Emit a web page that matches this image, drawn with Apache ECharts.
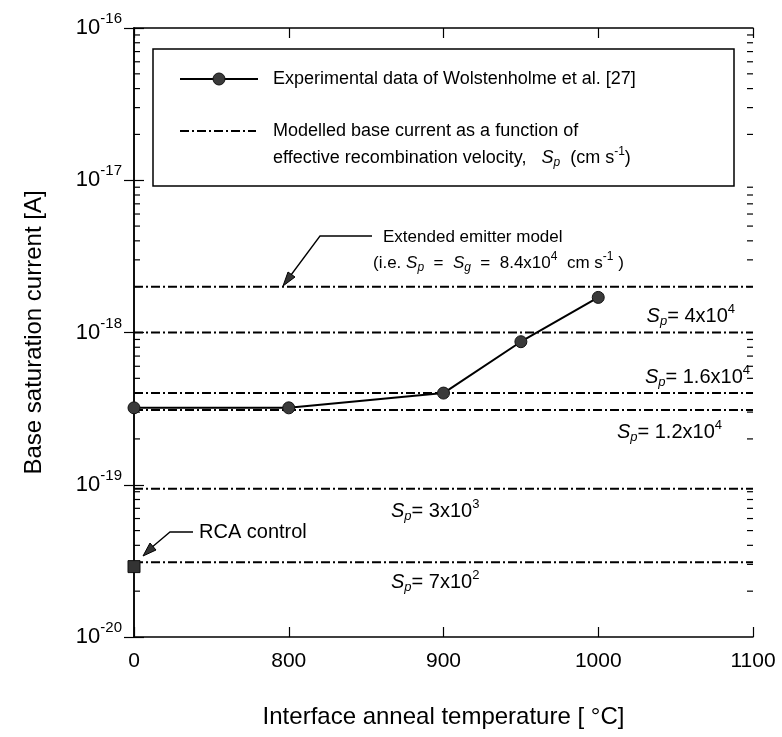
<!DOCTYPE html>
<html>
<head>
<meta charset="utf-8">
<script src="https://cdn.jsdelivr.net/npm/echarts@6/dist/echarts.min.js"></script>
<style>
  html, body { margin: 0; padding: 0; background: #fff; }
  #chart { width: 782px; height: 737px; }
</style>
</head>
<body>
<div id="chart"></div>
<script>
// x axis is broken: 0, then 800..1100 evenly spaced
var tickLabels = ['0', '800', '900', '1000', '1100'];
function tPos(t) { return t === 0 ? 0 : 1 + (t - 800) / 100; }

var expTemps = [0, 800, 900, 950, 1000];
var expValues = [3.2e-19, 3.2e-19, 4.0e-19, 8.7e-19, 1.7e-18];

var rcaTemp = 0;
var rcaValue = 2.9e-20;

// modelled base current for each Sp (dash-dot lines)
var modelNames = ['Sp=8.4e4', 'Sp=4e4', 'Sp=1.6e4', 'Sp=1.2e4', 'Sp=3e3', 'Sp=7e2'];
var modelValues = [2.0e-18, 1.0e-18, 4.0e-19, 3.1e-19, 9.4e-20, 3.1e-20];

var font = 'Liberation Sans, Arial, Helvetica, sans-serif';
var dashDot = [9, 3, 2, 3];

// minor ticks for the log axis
var minorVals = [];
for (var k = -20; k < -16; k++) {
    for (var m = 2; m <= 9; m++) minorVals.push([0, m * Math.pow(10, k)]);
}

var myChart = echarts.init(document.getElementById('chart'));

var series = [];
modelValues.forEach(function (v, i) {
    series.push({
        name: modelNames[i],
        type: 'line',
        data: [[0, v], [4, v]],
        symbol: 'none',
        lineStyle: { color: '#000', width: 2, type: dashDot },
        silent: true
    });
});
series.push({
    name: 'Experimental',
    type: 'line',
    data: expTemps.map(function (t, i) { return [tPos(t), expValues[i]]; }),
    symbol: 'circle',
    symbolSize: 12,
    itemStyle: { color: '#3a3a3a', borderColor: '#111', borderWidth: 1 },
    lineStyle: { color: '#000', width: 2 },
    z: 5
});
series.push({
    name: 'RCA control',
    type: 'scatter',
    data: [[tPos(rcaTemp), rcaValue]],
    symbol: 'rect',
    symbolSize: 12,
    itemStyle: { color: '#333', opacity: 1, borderColor: '#111', borderWidth: 1 },
    z: 6
});
series.push({
    type: 'custom',
    data: minorVals,
    silent: true,
    clip: false,
    renderItem: function (params, api) {
        var l = api.coord([0, api.value(1)]);
        var r = api.coord([4, api.value(1)]);
        var st = { stroke: '#000', lineWidth: 1.2 };
        return {
            type: 'group',
            children: [
                { type: 'line', shape: { x1: l[0], y1: l[1], x2: l[0] + 6, y2: l[1] }, style: st },
                { type: 'line', shape: { x1: r[0], y1: r[1], x2: r[0] - 6, y2: r[1] }, style: st }
            ]
        };
    }
});

function expLabel(v) {
    var e = Math.round(Math.log10(v));
    return '{b|10}{s|' + e + '}';
}

var yBase = {
    type: 'log',
    logBase: 10,
    min: 1e-20,
    max: 1e-16,
    axisLine: { show: true, lineStyle: { color: '#000', width: 1.5 } },
    axisTick: { show: true, inside: true, length: 10, lineStyle: { color: '#000', width: 1.2 } },
    splitLine: { show: false }
};

var option = {
    animation: false,
    grid: { left: 134, right: 29, top: 28, bottom: 100 },
    xAxis: [{
        type: 'value',
        min: 0, max: 4, interval: 1,
        name: 'Interface anneal temperature [ °C]',
        nameLocation: 'middle',
        nameGap: 68,
        nameTextStyle: { fontFamily: font, fontSize: 24, color: '#000' },
        axisLine: { lineStyle: { color: '#000', width: 1.5 } },
        axisTick: { inside: true, length: 10, lineStyle: { color: '#000', width: 1.2 } },
        axisLabel: {
            margin: 14,
            fontFamily: font, fontSize: 21, color: '#000',
            formatter: function (v) { return tickLabels[Math.round(v)]; }
        },
        splitLine: { show: false }
    }, {
        type: 'value',
        position: 'top',
        min: 0, max: 4, interval: 1,
        axisLine: { show: true, lineStyle: { color: '#000', width: 1.5 } },
        axisTick: { show: true, inside: true, length: 10, lineStyle: { color: '#000', width: 1.2 } },
        axisLabel: { show: false },
        splitLine: { show: false }
    }],
    yAxis: [Object.assign({}, yBase, {
        name: 'Base saturation current [A]',
        nameLocation: 'middle',
        nameGap: 88,
        nameTextStyle: { fontFamily: font, fontSize: 24, color: '#000' },
        axisLabel: {
            margin: 12,
            formatter: expLabel,
            rich: {
                b: { fontFamily: font, fontSize: 22, color: '#000' },
                s: { fontFamily: font, fontSize: 15, color: '#000', padding: [0, 0, 18, 0] }
            }
        }
    }), Object.assign({}, yBase, {
        position: 'right',
        axisLabel: { show: false }
    })],
    series: series,
    graphic: [
        // legend box
        { type: 'rect', shape: { x: 153, y: 49, width: 581, height: 137 },
          style: { fill: '#fff', stroke: '#000', lineWidth: 1.5 }, z: 10 },
        { type: 'line', shape: { x1: 180, y1: 79, x2: 258, y2: 79 },
          style: { stroke: '#000', lineWidth: 2 }, z: 11 },
        { type: 'circle', shape: { cx: 219, cy: 79, r: 6 },
          style: { fill: '#3a3a3a', stroke: '#111', lineWidth: 1 }, z: 12 },
        { type: 'text', x: 273, y: 79, z: 11,
          style: { text: 'Experimental data of Wolstenholme et al. [27]', font: '18px ' + font,
                   fill: '#000', verticalAlign: 'middle' } },
        { type: 'line', shape: { x1: 180, y1: 131, x2: 256, y2: 131 },
          style: { stroke: '#000', lineWidth: 2, lineDash: dashDot }, z: 11 },
        { type: 'text', x: 273, y: 131, z: 11,
          style: { text: 'Modelled base current as a function of', font: '18px ' + font,
                   fill: '#000', verticalAlign: 'middle' } },
        { type: 'text', x: 273, y: 158, z: 11,
          style: {
              text: '{t|effective recombination velocity,   }{i|S}{sub|p}{t|  (cm s}{sup|-1}{t|)}',
              fill: '#000', verticalAlign: 'middle',
              rich: {
                  t: { fontFamily: font, fontSize: 18 },
                  i: { fontFamily: font, fontSize: 18, fontStyle: 'italic' },
                  sub: { fontFamily: font, fontSize: 12, fontStyle: 'italic', padding: [10, 0, 0, 0] },
                  sup: { fontFamily: font, fontSize: 12, padding: [0, 0, 12, 0] }
              }
          } },

        // extended emitter model annotation
        { type: 'polyline', shape: { points: [[372, 236], [320, 236], [291, 275]] },
          style: { stroke: '#000', lineWidth: 1.3, fill: null } },
        { type: 'polygon', shape: { points: [[283, 286], [295, 277], [288, 272]] },
          style: { fill: '#333', stroke: '#000', lineWidth: 1 } },
        { type: 'text', x: 383, y: 237,
          style: { text: 'Extended emitter model', font: '17px ' + font, fill: '#000', verticalAlign: 'middle' } },
        { type: 'text', x: 373, y: 263,
          style: {
              text: '{t|(i.e. }{i|S}{sub|p}{t|  =  }{i|S}{sub|g}{t|  =  8.4x10}{sup|4}{t|  cm s}{sup|-1}{t| )}',
              fill: '#000', verticalAlign: 'middle',
              rich: {
                  t: { fontFamily: font, fontSize: 17 },
                  i: { fontFamily: font, fontSize: 17, fontStyle: 'italic' },
                  sub: { fontFamily: font, fontSize: 12, fontStyle: 'italic', padding: [9, 0, 0, 0] },
                  sup: { fontFamily: font, fontSize: 12, padding: [0, 0, 12, 0] }
              }
          } },

        // RCA control annotation
        { type: 'polyline', shape: { points: [[193, 532], [170, 532], [151, 548]] },
          style: { stroke: '#000', lineWidth: 1.3, fill: null } },
        { type: 'polygon', shape: { points: [[143, 556], [156, 550], [150, 543]] },
          style: { fill: '#333', stroke: '#000', lineWidth: 1 } },
        { type: 'text', x: 199, y: 532,
          style: { text: 'RCA control', font: '20px ' + font, fill: '#000', verticalAlign: 'middle' } },

        // Sp labels
        spLabel(735, 316, '4x10', '4', 'right'),
        spLabel(750, 377, '1.6x10', '4', 'right'),
        spLabel(722, 432, '1.2x10', '4', 'right'),
        spLabel(391, 511, '3x10', '3', 'left'),
        spLabel(391, 582, '7x10', '2', 'left')
    ]
};

function spLabel(x, y, mant, exp, align) {
    return {
        type: 'text', x: x, y: y,
        style: {
            text: '{i|S}{sub|p}{t|= ' + mant + '}{sup|' + exp + '}',
            fill: '#000', align: align, verticalAlign: 'middle',
            rich: {
                t: { fontFamily: font, fontSize: 20 },
                i: { fontFamily: font, fontSize: 20, fontStyle: 'italic' },
                sub: { fontFamily: font, fontSize: 13, fontStyle: 'italic', padding: [10, 0, 0, 0] },
                sup: { fontFamily: font, fontSize: 13, padding: [0, 0, 14, 0] }
            }
        }
    };
}

myChart.setOption(option);
</script>
</body>
</html>
